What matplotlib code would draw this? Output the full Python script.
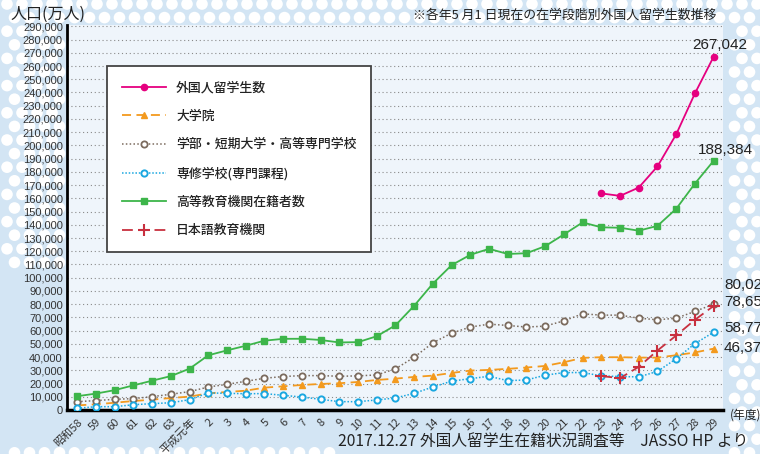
import numpy as np
import matplotlib.pyplot as plt
from matplotlib.ticker import FuncFormatter

plt.rcParams['font.family'] = ['Noto Sans CJK JP', 'DejaVu Sans']

# 年度ラベル (昭和58 = 1983 ... 平成29 = 2017)
nendo = ['昭和58', '59', '60', '61', '62', '63', '平成元年'] + [str(n) for n in range(2, 30)]

# 高等教育機関在籍者数
koutou = [10428, 12410, 15009, 18631, 22154, 25643, 31251, 41347, 45066, 48561,
          52405, 53787, 53847, 52921, 51047, 51298, 55755, 64011, 78812, 95550,
          109508, 117302, 121812, 117927, 118498, 123829, 132720, 141774, 138075, 137756,
          135519, 139185, 152062, 171122, 188384]
# 学部・短期大学・高等専門学校
gakubu = [6300, 7100, 8100, 8600, 10100, 11900, 13900, 17400, 19400, 21700,
          24000, 25300, 26000, 26000, 25500, 25800, 26500, 31100, 39900, 50800,
          58100, 62700, 64900, 63900, 62700, 63400, 67400, 72700, 71700, 71700,
          69400, 68200, 69400, 74500, 80020]
# 大学院
daigakuin = [3500, 4300, 5500, 6800, 7800, 9100, 10100, 12600, 13600, 14600,
             16900, 17900, 18900, 19700, 20200, 21200, 22700, 23700, 25000, 26000,
             28000, 29800, 30300, 31100, 32100, 33300, 36100, 39400, 39900, 39900,
             39600, 39600, 41400, 43500, 46373]
# 専修学校(専門課程)
senshu = [1300, 2500, 2500, 4000, 4800, 5500, 7800, 12900, 12600, 12300,
          12400, 11100, 9800, 8100, 6300, 6300, 7600, 9100, 12600, 17400,
          21800, 23700, 25500, 22200, 22700, 26300, 28300, 28300, 25800, 25300,
          25000, 29200, 38700, 50200, 58771]
# 平成23年度以降のみ
ryugakusei = [163697, 161848, 168145, 184155, 208379, 239287, 267042]
nihongo = [25622, 24092, 32626, 44970, 56317, 68165, 78658]

x = np.arange(len(nendo))
x_late = x[-len(ryugakusei):]

fig = plt.figure(figsize=(7.6, 4.54), dpi=100)
fig.patch.set_facecolor('#d3e5f4')

# 背景の水玉模様
bg = fig.add_axes([0, 0, 1, 1], zorder=-10)
bg.set_xlim(0, 760)
bg.set_ylim(454, 0)
bg.axis('off')
dx, dy = [], []
for r, yy in enumerate(np.arange(4, 454, 13.6)):
    off = 0 if r % 2 == 0 else 7.5
    for xx in np.arange(7 + off, 760, 15):
        if yy < 30 or (xx < 60 and yy < 270) or xx > 728 or (yy > 420 and xx < 330 and r % 3 == 0):
            dx.append(xx)
            dy.append(yy)
bg.scatter(dx, dy, s=70, color='white', edgecolors='none')

ax = fig.add_axes([67 / 760, 1 - 410 / 454, (723 - 67) / 760, (410 - 25) / 454])
ax.set_facecolor('#eff5fb')

ax.plot(x_late, ryugakusei, color='#e5007f', lw=1.3, marker='o', ms=4.5, label='外国人留学生数', zorder=5)
ax.plot(x, daigakuin, color='#f39a1e', lw=1.3, ls=(0, (5, 3)), marker='^', ms=5, label='大学院', zorder=4)
ax.plot(x, gakubu, color='#7b6b5e', lw=1.1, ls=(0, (1, 1.5)), marker='o', ms=4.5, mfc='white',
        mew=1.3, label='学部・短期大学・高等専門学校', zorder=4)
ax.plot(x, senshu, color='#1aa7e0', lw=1.1, ls=(0, (1, 1.2)), marker='o', ms=4.5, mfc='white',
        mew=1.4, label='専修学校(専門課程)', zorder=4)
ax.plot(x, koutou, color='#3db54a', lw=1.3, marker='s', ms=5, label='高等教育機関在籍者数', zorder=4)
ax.plot(x_late, nihongo, color='#c8303f', lw=1.3, ls=(0, (6, 3)), marker='+', ms=9, mew=1.5,
        label='日本語教育機関', zorder=6)

ax.set_xlim(-0.55, 34.5)
ax.set_ylim(0, 291000)
ax.set_yticks(np.arange(0, 290001, 10000))
ax.yaxis.set_major_formatter(FuncFormatter(lambda v, p: f'{int(v):,}'))
ax.grid(axis='y', color='#8a8a8a', ls=(0, (1, 2.5)), lw=0.8)
ax.set_axisbelow(True)
ax.tick_params(axis='y', length=0, pad=3, labelsize=8, labelcolor='#333333')
ax.set_xticks(x)
ax.set_xticklabels(nendo, rotation=45, ha='right', rotation_mode='anchor', fontsize=8, color='#333333')
ax.tick_params(axis='x', length=0, pad=5)
for lab in ax.get_yticklabels():
    lab.set_family(['Liberation Sans', 'DejaVu Sans'])
for s in ['top', 'right']:
    ax.spines[s].set_visible(False)
ax.spines['left'].set_linewidth(2)
ax.spines['bottom'].set_linewidth(2.5)

leg = ax.legend(loc='upper left', bbox_to_anchor=(0.061, 0.893), frameon=True, fancybox=False,
                prop={'size': 9.3, 'weight': 'medium'}, handlelength=3.4, labelspacing=1.2,
                borderpad=1.15, handletextpad=0.8, borderaxespad=0, framealpha=1)
leg.get_frame().set_edgecolor('#444444')
leg.get_frame().set_linewidth(1.3)
for t in leg.get_texts():
    t.set_color('#222222')

# 最終年の数値
fig.text(747 / 760, 1 - 45 / 454, '267,042', fontsize=11, ha='right', va='center', color='#222222',
         family=['Liberation Sans', 'DejaVu Sans'])
fig.text(753 / 760, 1 - 150 / 454, '188,384', fontsize=11, ha='right', va='center', color='#222222',
         family=['Liberation Sans', 'DejaVu Sans'])
for yy, t in zip([285, 302, 328, 348], ['80,020', '78,658', '58,771', '46,373']):
    fig.text(724 / 760, 1 - yy / 454, t, fontsize=11, ha='left', va='center', color='#222222',
             family=['Liberation Sans', 'DejaVu Sans'])

fig.text(10 / 760, 1 - 14 / 454, '人口(万人)', fontsize=11.5, ha='left', va='center', color='#222222')
fig.text(413 / 760, 1 - 15 / 454, '※各年5 月1 日現在の在学段階別外国人留学生数推移', fontsize=9.3,
         ha='left', va='center', color='#222222')
fig.text(730 / 760, 1 - 415 / 454, '(年度)', fontsize=8.5, ha='left', va='center', color='#222222')
fig.text(748 / 760, 1 - 441 / 454, '2017.12.27 外国人留学生在籍状況調査等　JASSO HP より', fontsize=11.3,
         ha='right', va='center', color='#222222')

fig.savefig('out.png', dpi=100, facecolor=fig.get_facecolor())
